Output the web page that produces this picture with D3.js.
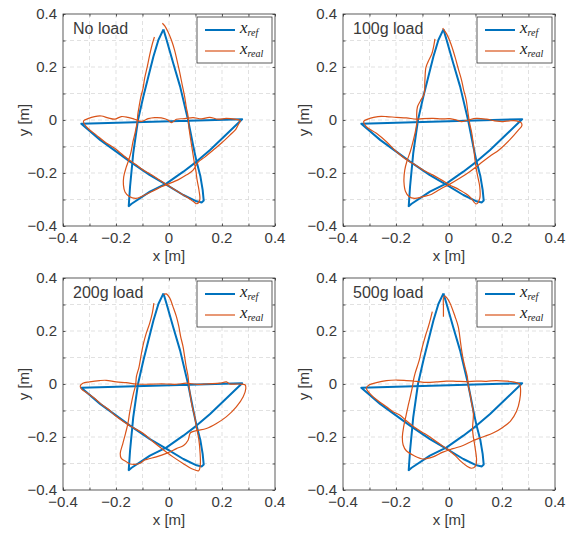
<!DOCTYPE html>
<html><head><meta charset="utf-8">
<script src="https://cdn.jsdelivr.net/npm/d3@7"></script>
<style>body{margin:0;background:#fff}svg{display:block}</style>
</head><body>
<script>
// ---------- data ----------
const panelTitles = ["No load", "100g load", "200g load", "500g load"];
const majorTicks = [-0.4, -0.2, 0, 0.2, 0.4];
const minorTicks = [-0.4, -0.3, -0.2, -0.1, 0, 0.1, 0.2, 0.3, 0.4];
const legendLabels = [["x", "ref"], ["x", "real"]];

// reference trajectory (same star for all runs)
const refPath = [[-0.021,0.342],
[-0.040,0.302],[-0.059,0.239],[-0.078,0.163],[-0.097,0.088],[-0.117,0.0],[-0.135,-0.126],[-0.147,-0.252],[-0.152,-0.325],
[-0.141,-0.316],[-0.072,-0.270],[-0.009,-0.239],[0.054,-0.195],[0.104,-0.157],[0.155,-0.113],[0.215,-0.056],[0.276,0.003],
[-0.331,-0.014],
[-0.260,-0.075],[-0.147,-0.157],[-0.072,-0.208],[-0.009,-0.245],[0.054,-0.283],[0.104,-0.307],[0.124,-0.311],[0.131,-0.304],
[0.127,-0.264],[0.118,-0.210],[0.104,-0.157],[0.092,-0.101],[0.072,0.0],[0.042,0.126],[0.016,0.214],[-0.009,0.302],[-0.021,0.342]];

const realNoLoad = [[-0.055,0.313],[-0.064,0.283],[-0.073,0.245],[-0.082,0.201],[-0.092,0.157],[-0.098,0.119],[-0.106,0.088],[-0.113,0.050],[-0.118,0.019],[-0.120,-0.006],[-0.127,-0.044],[-0.136,-0.082],[-0.143,-0.119],[-0.151,-0.148],[-0.162,-0.180],[-0.171,-0.215],[-0.172,-0.245],[-0.166,-0.272],[-0.150,-0.289],[-0.125,-0.296],
[-0.098,-0.286],[-0.060,-0.268],[-0.029,-0.252],[0.003,-0.239],[0.034,-0.226],[0.065,-0.208],[0.091,-0.189],[0.109,-0.160],[0.135,-0.140],[0.166,-0.114],[0.197,-0.088],[0.229,-0.058],[0.252,-0.035],[0.264,-0.013],[0.269,-0.003],
[0.248,0.003],[0.216,0.006],[0.185,0.003],[0.153,0.010],[0.122,0.004],[0.091,0.009],[0.059,0.005],[0.028,0.003],[0.009,-0.010],[-0.004,0.000],[-0.029,0.008],[-0.054,0.009],[-0.079,0.005],[-0.104,-0.005],[-0.130,0.003],[-0.155,0.010],[-0.180,0.013],[-0.205,0.003],[-0.230,0.008],[-0.255,0.015],[-0.281,0.013],[-0.306,0.005],[-0.322,-0.003],
[-0.322,-0.010],[-0.306,-0.031],[-0.274,-0.057],[-0.243,-0.082],[-0.205,-0.107],[-0.174,-0.132],[-0.150,-0.151],[-0.125,-0.168],[-0.097,-0.189],[-0.073,-0.203],[-0.046,-0.220],[-0.020,-0.237],[0.004,-0.252],[0.030,-0.268],[0.054,-0.283],[0.078,-0.298],[0.092,-0.308],[0.105,-0.316],
[0.116,-0.302],[0.113,-0.264],[0.106,-0.226],[0.101,-0.189],[0.094,-0.151],[0.088,-0.113],[0.081,-0.069],[0.075,-0.025],[0.072,0.013],[0.065,0.050],[0.059,0.088],[0.050,0.132],[0.040,0.182],[0.030,0.226],[0.021,0.264],[0.009,0.302],[-0.004,0.333],[-0.016,0.355],[-0.025,0.365]];

const real100g = [[-0.053,0.306],[-0.058,0.277],[-0.065,0.249],[-0.078,0.222],[-0.087,0.199],[-0.091,0.148],[-0.094,0.098],[-0.108,0.072],[-0.119,0.050],[-0.122,0.019],[-0.121,-0.006],[-0.127,-0.044],[-0.136,-0.082],[-0.146,-0.119],[-0.158,-0.153],[-0.167,-0.189],[-0.170,-0.233],[-0.164,-0.270],[-0.151,-0.289],[-0.130,-0.296],
[-0.098,-0.289],[-0.067,-0.281],[-0.035,-0.262],[0.003,-0.242],[0.040,-0.220],[0.078,-0.195],[0.116,-0.166],[0.153,-0.138],[0.191,-0.111],[0.229,-0.075],[0.260,-0.040],[0.275,-0.021],[0.272,-0.010],
[0.254,-0.003],[0.229,-0.003],[0.204,-0.006],[0.172,-0.003],[0.141,0.003],[0.103,0.006],[0.072,0.000],[0.047,-0.006],[0.028,0.000],[0.003,0.005],[-0.029,0.004],[-0.060,0.006],[-0.098,0.005],[-0.123,0.003],[-0.161,0.008],[-0.199,0.010],[-0.236,0.013],[-0.268,0.013],[-0.299,0.006],[-0.322,-0.006],
[-0.312,-0.025],[-0.274,-0.050],[-0.236,-0.082],[-0.199,-0.119],[-0.167,-0.145],[-0.136,-0.164],[-0.098,-0.189],[-0.060,-0.208],[-0.029,-0.226],[0.003,-0.245],[0.040,-0.264],[0.078,-0.289],[0.103,-0.317],
[0.116,-0.296],[0.116,-0.252],[0.106,-0.201],[0.098,-0.151],[0.093,-0.101],[0.086,-0.050],[0.078,-0.013],[0.072,0.025],[0.065,0.075],[0.055,0.115],[0.048,0.148],[0.036,0.190],[0.023,0.237],[0.008,0.285],[-0.009,0.325],[-0.024,0.347]];

const real200g = [[-0.057,0.305],[-0.063,0.267],[-0.073,0.229],[-0.086,0.191],[-0.096,0.154],[-0.105,0.110],[-0.113,0.065],[-0.123,0.028],[-0.126,-0.004],[-0.134,-0.035],[-0.142,-0.073],[-0.149,-0.111],[-0.155,-0.149],[-0.164,-0.186],[-0.174,-0.224],[-0.184,-0.262],[-0.180,-0.281],[-0.161,-0.293],[-0.146,-0.302],
[-0.111,-0.300],[-0.092,-0.287],[-0.076,-0.282],[-0.048,-0.275],[-0.010,-0.262],[0.028,-0.244],[0.055,-0.232],[0.072,-0.212],[0.081,-0.184],[0.103,-0.176],[0.141,-0.168],[0.179,-0.149],[0.217,-0.123],[0.254,-0.086],[0.280,-0.048],[0.290,-0.016],[0.287,-0.003],
[0.261,0.000],[0.229,0.000],[0.217,0.008],[0.191,0.003],[0.141,0.000],[0.103,-0.001],[0.065,0.003],[0.028,-0.001],[-0.010,0.000],[-0.048,0.000],[-0.086,-0.001],[-0.123,0.000],[-0.161,0.005],[-0.199,0.008],[-0.237,0.014],[-0.262,0.013],[-0.300,0.008],[-0.325,0.003],[-0.335,-0.008],
[-0.329,-0.020],[-0.310,-0.033],[-0.281,-0.054],[-0.256,-0.076],[-0.230,-0.094],[-0.202,-0.120],[-0.171,-0.142],[-0.136,-0.164],[-0.098,-0.186],[-0.060,-0.218],[-0.023,-0.247],[0.015,-0.275],[0.053,-0.300],[0.084,-0.319],[0.112,-0.327],
[0.118,-0.306],[0.117,-0.256],[0.112,-0.205],[0.103,-0.161],[0.097,-0.123],[0.088,-0.086],[0.081,-0.048],[0.076,-0.010],[0.072,0.028],[0.065,0.065],[0.059,0.103],[0.053,0.141],[0.044,0.179],[0.037,0.217],[0.028,0.254],[0.015,0.292],[0.003,0.324],[-0.010,0.340],[-0.020,0.338]];

const real500g = [[-0.063,0.273],[-0.070,0.245],[-0.078,0.216],[-0.088,0.185],[-0.097,0.153],[-0.105,0.122],[-0.112,0.091],[-0.120,0.065],[-0.128,0.040],[-0.134,0.015],[-0.138,-0.010],[-0.146,-0.048],[-0.155,-0.086],[-0.163,-0.123],[-0.171,-0.161],[-0.176,-0.199],[-0.173,-0.230],[-0.161,-0.252],[-0.133,-0.270],[-0.098,-0.283],
[-0.060,-0.275],[-0.023,-0.257],[0.015,-0.244],[0.053,-0.232],[0.090,-0.214],[0.130,-0.199],[0.166,-0.185],[0.204,-0.163],[0.232,-0.140],[0.255,-0.103],[0.267,-0.060],[0.270,-0.020],[0.266,0.000],
[0.241,0.008],[0.216,0.011],[0.178,0.013],[0.141,0.010],[0.103,0.011],[0.065,0.009],[0.028,0.010],[-0.010,0.011],[-0.048,0.008],[-0.085,0.006],[-0.123,0.010],[-0.161,0.013],[-0.198,0.015],[-0.236,0.013],[-0.274,0.005],[-0.302,-0.004],[-0.312,-0.016],
[-0.293,-0.042],[-0.268,-0.063],[-0.236,-0.086],[-0.211,-0.105],[-0.186,-0.117],[-0.161,-0.139],[-0.133,-0.161],[-0.104,-0.180],[-0.073,-0.199],[-0.041,-0.222],[-0.010,-0.243],[0.021,-0.268],[0.046,-0.293],[0.068,-0.310],[0.085,-0.318],
[0.100,-0.310],[0.104,-0.287],[0.098,-0.237],[0.089,-0.174],[0.092,-0.111],[0.085,-0.070],[0.079,-0.035],[0.073,-0.008],[0.069,0.028],[0.060,0.065],[0.054,0.091],[0.048,0.125],[0.044,0.153],[0.035,0.216],[0.023,0.254],[0.004,0.305],[-0.008,0.325],[-0.017,0.333],[-0.021,0.323],[-0.021,0.290],[-0.021,0.254]];

const realRuns = [realNoLoad, real100g, real200g, real500g];

// ---------- layout ----------
const W = 579, H = 533, S = 212;
const origins = [[63,14],[343,14],[63,278],[343,278]];
const blue = "#0072BD", orange = "#D95319", axisCol = "#333333", txtCol = "#3a3a3a";

const svg = d3.select("body").append("svg").attr("width", W).attr("height", H)
  .style("font-family", "'Liberation Sans', Arial, sans-serif");

const x = d3.scaleLinear().domain([-0.4, 0.4]).range([0, S]);
const y = d3.scaleLinear().domain([-0.4, 0.4]).range([S, 0]);
const fmt = d => d === 0 ? "0" : d3.format(".1f")(d);

const refLine = d3.line().x(d => x(d[0])).y(d => y(d[1]));
const realLine = d3.line().x(d => x(d[0])).y(d => y(d[1])).curve(d3.curveCatmullRom.alpha(0.5));

origins.forEach(([ox, oy], i) => {
  const g = svg.append("g").attr("transform", `translate(${ox},${oy})`);

  // grid
  const inner = minorTicks.filter(v => Math.abs(v) < 0.39);
  g.selectAll(".gv").data(inner).join("line")
    .attr("x1", d => x(d)).attr("x2", d => x(d)).attr("y1", 0).attr("y2", S)
    .attr("stroke", "#d9d9d9").attr("stroke-width", 0.8).attr("stroke-dasharray", "4,3");
  g.selectAll(".gh").data(inner).join("line")
    .attr("y1", d => y(d)).attr("y2", d => y(d)).attr("x1", 0).attr("x2", S)
    .attr("stroke", "#d9d9d9").attr("stroke-width", 0.8).attr("stroke-dasharray", "4,3");

  // data
  g.append("path").datum(refPath).attr("d", refLine).attr("fill", "none")
    .attr("stroke", blue).attr("stroke-width", 2).attr("stroke-linejoin", "round");
  g.append("path").datum(realRuns[i]).attr("d", realLine).attr("fill", "none")
    .attr("stroke", orange).attr("stroke-width", 1.2).attr("stroke-linejoin", "round");

  // axes (ticks inward on all four sides)
  const mk = (axisFn, scale, tr) => {
    const a = g.append("g").attr("transform", tr)
      .call(axisFn(scale).tickValues(minorTicks).tickSize(-2.5).tickFormat(""));
    a.select(".domain").remove();
    a.selectAll("line").attr("stroke", axisCol).attr("stroke-width", 0.8);
  };
  mk(d3.axisBottom, x, `translate(0,${S})`);
  mk(d3.axisTop, x, `translate(0,0)`);
  mk(d3.axisLeft, y, `translate(0,0)`);
  mk(d3.axisRight, y, `translate(${S},0)`);
  g.append("rect").attr("x", 0).attr("y", 0).attr("width", S).attr("height", S)
    .attr("fill", "none").attr("stroke", axisCol).attr("stroke-width", 0.8);

  // tick labels
  g.selectAll(".xl").data(majorTicks).join("text")
    .attr("x", d => x(d)).attr("y", S + 17).attr("text-anchor", "middle")
    .attr("font-size", 15).attr("fill", txtCol).text(fmt);
  g.selectAll(".yl").data(majorTicks).join("text")
    .attr("x", -6).attr("y", d => y(d)).attr("dy", "0.35em").attr("text-anchor", "end")
    .attr("font-size", 15).attr("fill", txtCol).text(fmt);

  // axis labels
  g.append("text").attr("x", S / 2).attr("y", S + 35).attr("text-anchor", "middle")
    .attr("font-size", 15).attr("fill", txtCol).text("x [m]");
  g.append("text").attr("transform", `translate(-34,${S / 2}) rotate(-90)`).attr("text-anchor", "middle")
    .attr("font-size", 15).attr("fill", txtCol).text("y [m]");

  // panel title
  g.append("text").attr("x", 10).attr("y", 20).attr("font-size", 16).attr("fill", txtCol).text(panelTitles[i]);

  // legend
  const lg = g.append("g").attr("transform", "translate(134,3)");
  lg.append("rect").attr("width", 75).attr("height", 46).attr("fill", "#fff")
    .attr("stroke", axisCol).attr("stroke-width", 0.8);
  [blue, orange].forEach((c, k) => {
    const yy = 13 + k * 21;
    lg.append("line").attr("x1", 8).attr("x2", 38).attr("y1", yy).attr("y2", yy)
      .attr("stroke", c).attr("stroke-width", k === 0 ? 2 : 1.2);
    const t = lg.append("text").attr("x", 43).attr("y", yy + 3)
      .attr("font-family", "'Liberation Serif', 'Times New Roman', serif").attr("font-style", "italic")
      .attr("fill", "#222").attr("font-size", 17);
    t.append("tspan").text(legendLabels[k][0]);
    t.append("tspan").attr("font-size", 10).attr("dy", 3).text(legendLabels[k][1]);
  });
});
</script>
</body></html>
